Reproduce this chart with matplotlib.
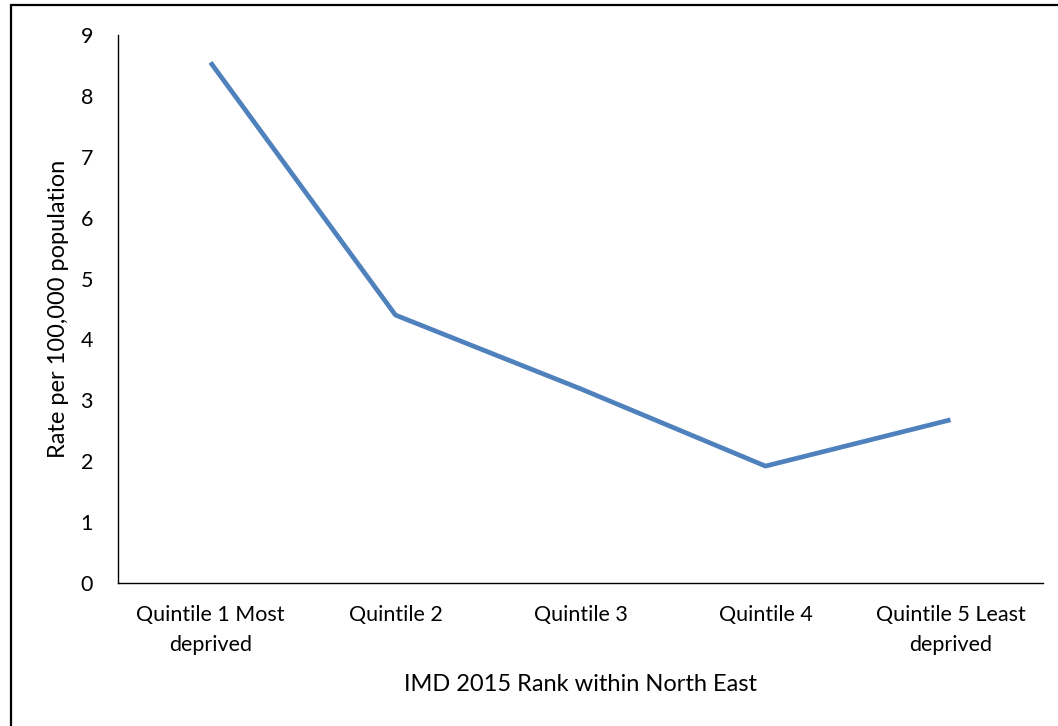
import matplotlib.pyplot as plt
from matplotlib.patches import Rectangle

categories = ["Quintile 1 Most\ndeprived", "Quintile 2", "Quintile 3",
              "Quintile 4", "Quintile 5 Least\ndeprived"]
rates = [8.55, 4.40, 3.19, 1.92, 2.68]
yticks = list(range(0, 10))

plt.rcParams['font.family'] = ['Lato', 'DejaVu Sans']

W, H = 1058, 726
fig = plt.figure(figsize=(W / 100, H / 100), dpi=100)
ax = fig.add_axes([118 / W, 1 - 583 / H, (1043 - 118) / W, (583 - 35) / H])

x = list(range(len(categories)))
ax.plot(x, rates, color="#4F81BD", linewidth=3.4, solid_capstyle="butt")

ax.set_xlim(-0.5, len(categories) - 0.5)
ax.set_ylim(0, 9)
ax.set_yticks(yticks)
ax.set_xticks(x)
ax.set_xticklabels(categories, fontsize=15.5, linespacing=1.6)
ax.tick_params(axis="y", labelsize=15.5, length=0, pad=18)
ax.tick_params(axis="x", length=0, pad=16)
for s in ["top", "right"]:
    ax.spines[s].set_visible(False)
for s in ["left", "bottom"]:
    ax.spines[s].set_linewidth(1.0)
    ax.spines[s].set_color("black")

ax.set_ylabel("Rate per 100,000 population", fontsize=17, labelpad=8)
ax.set_xlabel("IMD 2015 Rank within North East", fontsize=17, labelpad=14)

# outer chart frame (partly cropped in the source image)
fig.patches.append(Rectangle((11 / W, -0.1), 1.2, 1 - 5 / H + 0.1,
                             transform=fig.transFigure, fill=False,
                             edgecolor="black", linewidth=1.6))

fig.savefig("out.png", dpi=100)
